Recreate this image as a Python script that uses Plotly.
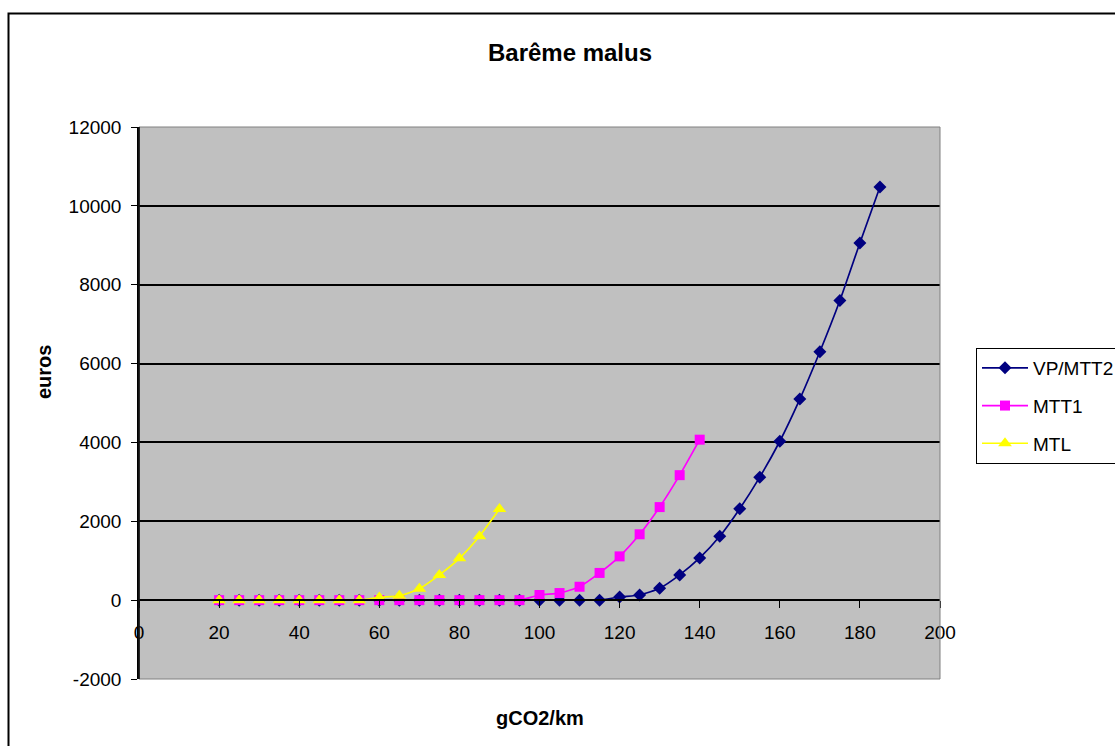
import plotly.graph_objects as go

# ---- data ----
x_vp = [20, 25, 30, 35, 40, 45, 50, 55, 60, 65, 70, 75, 80, 85, 90, 95, 100, 105, 110, 115,
        120, 125, 130, 135, 140, 145, 150, 155, 160, 165, 170, 175, 180, 185]
y_vp = [0, 0, 0, 0, 0, 0, 0, 0, 0, 0, 0, 0, 0, 0, 0, 0, 0, 0, 0, 0,
        80, 130, 300, 640, 1070, 1620, 2320, 3120, 4030, 5100, 6300, 7600, 9060, 10480]

x_mtt1 = [20, 25, 30, 35, 40, 45, 50, 55, 60, 65, 70, 75, 80, 85, 90, 95,
          100, 105, 110, 115, 120, 125, 130, 135, 140]
y_mtt1 = [0, 0, 0, 0, 0, 0, 0, 0, 0, 0, 0, 0, 0, 0, 0, 0,
          130, 180, 340, 690, 1110, 1670, 2360, 3170, 4070]

x_mtl = [20, 25, 30, 35, 40, 45, 50, 55, 60, 65, 70, 75, 80, 85, 90]
y_mtl = [0, 0, 0, 0, 0, 0, 0, 0, 70, 110, 290, 640, 1060, 1620, 2310]

series_names = ["VP/MTT2", "MTT1", "MTL"]
x_ticks = [0, 20, 40, 60, 80, 100, 120, 140, 160, 180, 200]
y_ticks = [-2000, 0, 2000, 4000, 6000, 8000, 10000, 12000]
y_tick_text = ["-2000", "0", "2000", "4000", "6000", "8000", "10000", "12000"]

FONT = "Liberation Sans, Arial, sans-serif"

# plot area in pixels
W, H = 1115, 746
L, R, T, B = 139, 940, 127, 679


def px(xp):
    return (xp - L) / (R - L)


def py(yp):
    return (B - yp) / (B - T)


fig = go.Figure()
fig.add_trace(go.Scatter(
    x=x_vp, y=y_vp, name=series_names[0], mode="lines+markers", legendgroup="a",
    line=dict(color="#000080", width=1.7, shape="spline", smoothing=0.6),
    marker=dict(symbol="diamond", size=10, color="#000080", line=dict(width=0))))
fig.add_trace(go.Scatter(
    x=x_mtt1, y=y_mtt1, name=series_names[1], mode="lines+markers", legendgroup="b",
    line=dict(color="#FF00FF", width=1.7, shape="spline", smoothing=0.6),
    marker=dict(symbol="square", size=10, color="#FF00FF", line=dict(width=0))))
fig.add_trace(go.Scatter(
    x=x_mtl, y=y_mtl, name=series_names[2], mode="lines+markers", legendgroup="c",
    line=dict(color="#FFFF00", width=1.7, shape="spline", smoothing=0.6),
    marker=dict(symbol="triangle-up", size=12, color="#FFFF00", line=dict(width=0))))

fig.update_layout(
    width=W, height=H,
    margin=dict(l=L, r=W - R, t=T, b=H - B, pad=0, autoexpand=False),
    paper_bgcolor="white",
    plot_bgcolor="#C0C0C0",
    font=dict(family=FONT, size=19, color="black"),
    showlegend=True,
    legend=dict(
        x=px(976), y=py(348), xanchor="left", yanchor="top",
        bordercolor="black", borderwidth=1, bgcolor="white",
        font=dict(family=FONT, size=19, color="black"),
        tracegroupgap=10, itemwidth=46,
    ),
    title=dict(text="<b>Barême malus</b>", x=570 / W, xanchor="center",
               y=1 - 53 / H, yanchor="middle",
               font=dict(family=FONT, size=24, color="black")),
)

fig.update_xaxes(
    range=[0, 200], tickvals=x_ticks, ticks="outside", ticklen=7, tickcolor="black",
    tickwidth=1, showline=True, linecolor="black", linewidth=1.5, showgrid=False,
    zeroline=False, anchor="free", position=2000 / 14000, ticklabelstandoff=8,
    tickfont=dict(family=FONT, size=19, color="black"),
)
fig.update_yaxes(
    range=[-2000, 12000], tickvals=y_ticks, ticktext=y_tick_text, ticks="outside",
    ticklen=6, tickcolor="black", tickwidth=1, showline=True, linecolor="black",
    linewidth=1.5, showgrid=True, gridcolor="black", gridwidth=1.5, zeroline=False,
    ticklabelstandoff=6, tickfont=dict(family=FONT, size=19, color="black"),
)

# plot area border (gray) and outer chart frame
fig.add_shape(type="rect", xref="paper", yref="paper", x0=0, y0=0, x1=1, y1=1,
              line=dict(color="#808080", width=1), layer="above")
fig.add_shape(type="line", xref="paper", yref="paper", x0=0, y0=0, x1=0, y1=1,
              line=dict(color="black", width=1.5), layer="above")
fig.add_shape(type="rect", xref="paper", yref="paper",
              x0=px(8.5), y0=py(760), x1=px(1130), y1=py(13.5),
              line=dict(color="black", width=2), layer="above")

fig.add_annotation(text="<b>gCO2/km</b>", xref="paper", yref="paper",
                   x=px(540), y=py(718), xanchor="center", yanchor="middle",
                   showarrow=False, font=dict(family=FONT, size=20, color="black"))
fig.add_annotation(text="<b>euros</b>", xref="paper", yref="paper",
                   x=px(44), y=py(372), xanchor="center", yanchor="middle",
                   showarrow=False, textangle=-90,
                   font=dict(family=FONT, size=20, color="black"))

fig.write_html("out.html")
